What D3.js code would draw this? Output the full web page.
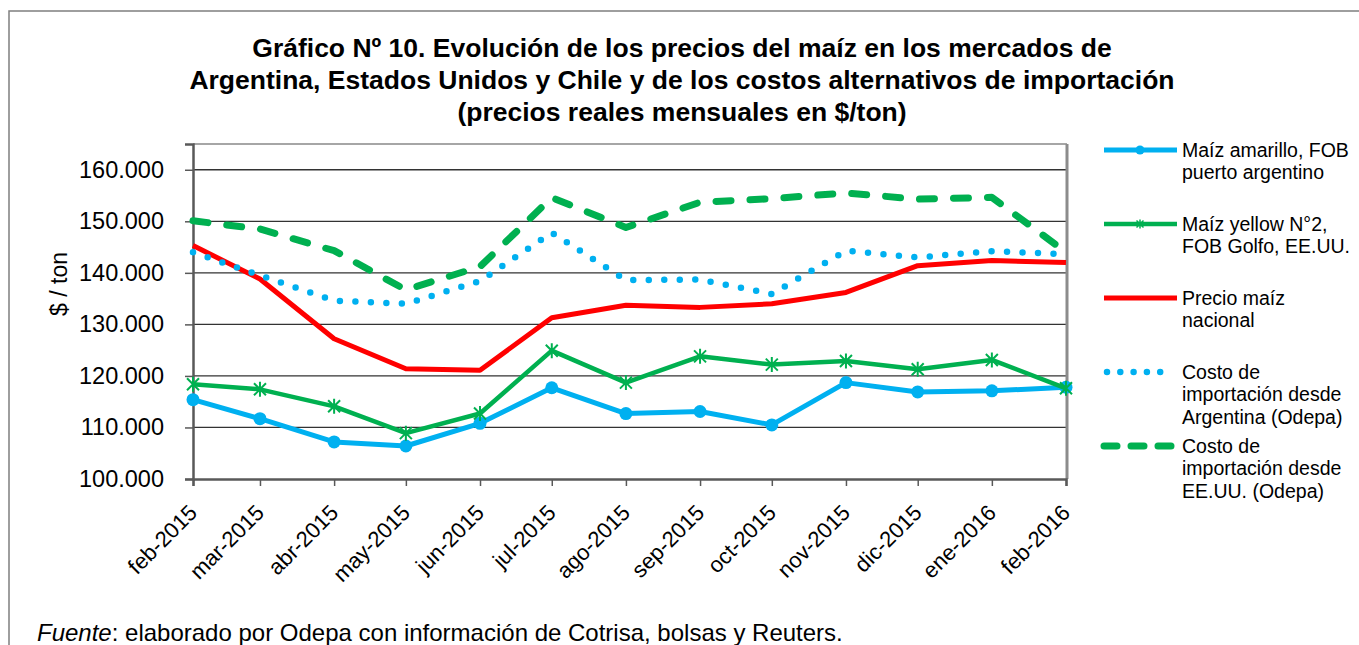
<!DOCTYPE html>
<html>
<head>
<meta charset="utf-8">
<script src="https://d3js.org/d3.v7.min.js"></script>
<style>
body { margin: 0; background: #fff; }
text { font-family: "Liberation Sans", Arial, sans-serif; fill: #000; }
</style>
</head>
<body>
<div id="visu"></div>
<script>

// Dimensions
var largeur = 1359,
    hauteur = 645;

// Données ($/ton)
var fechas = ["2015-02-01", "2015-03-01", "2015-04-01", "2015-05-01", "2015-06-01", "2015-07-01",
              "2015-08-01", "2015-09-01", "2015-10-01", "2015-11-01", "2015-12-01", "2016-01-01", "2016-02-01"];
var etiquetas = ["feb-2015", "mar-2015", "abr-2015", "may-2015", "jun-2015", "jul-2015",
                 "ago-2015", "sep-2015", "oct-2015", "nov-2015", "dic-2015", "ene-2016", "feb-2016"];

var amarilloFOB = [115400, 111700, 107200, 106400, 110800, 117700, 112700, 113100, 110500, 118700, 116900, 117100, 117800];
var yellowGolfo = [118400, 117400, 114100, 108900, 112700, 124900, 118700, 123800, 122200, 122900, 121300, 123100, 117600];
var precioNacional = [145300, 138800, 127200, 121400, 121100, 131300, 133700, 133300, 134000, 136200, 141400, 142400, 142000];
var costoArgentina = [144000, 139500, 134600, 134000, 138400, 147800, 138600, 138700, 135900, 144300, 143000, 144200, 143600];
var costoEEUU = [150100, 148500, 144300, 136700, 141200, 154600, 148800, 153700, 154400, 155500, 154300, 154650, 144000];

var ticksY = [100000, 110000, 120000, 130000, 140000, 150000, 160000];

var titulo = ["Gráfico Nº 10. Evolución de los precios del maíz en los mercados de",
              "Argentina, Estados Unidos y Chile y de los costos alternativos de importación",
              "(precios reales mensuales en $/ton)"];

var series = [
  {nom: ["Maíz amarillo, FOB", "puerto argentino"], valeurs: amarilloFOB, couleur: "#00B0F0", type: "cercle"},
  {nom: ["Maíz yellow N°2,", "FOB Golfo, EE.UU."], valeurs: yellowGolfo, couleur: "#00B050", type: "etoile"},
  {nom: ["Precio maíz", "nacional"], valeurs: precioNacional, couleur: "#FF0000", type: "plein"},
  {nom: ["Costo de", "importación desde", "Argentina (Odepa)"], valeurs: costoArgentina, couleur: "#00B0F0", type: "points"},
  {nom: ["Costo de", "importación desde", "EE.UU. (Odepa)"], valeurs: costoEEUU, couleur: "#00B050", type: "tirets"}
];

var parseDate = d3.timeParse("%Y-%m-%d");
var dates = fechas.map(parseDate);

var locale = d3.formatLocale({decimal: ",", thousands: ".", grouping: [3], currency: ["$", ""]});
var fmt = locale.format(",.0f");

var svg = d3.select("#visu")
  .append("svg")
    .attr("width", largeur)
    .attr("height", hauteur);

// cadre extérieur
svg.append("rect")
  .attr("x", 9).attr("y", 11)
  .attr("width", 1400).attr("height", 700)
  .attr("fill", "none")
  .attr("stroke", "#7f7f7f")
  .attr("stroke-width", 1.5);

// titre
svg.append("g").selectAll("text")
  .data(titulo)
  .enter().append("text")
    .attr("x", 682)
    .attr("y", (d, i) => 57 + i * 32)
    .attr("text-anchor", "middle")
    .style("font-size", "26.5px")
    .style("font-weight", "bold")
    .text(d => d);

// échelles
var x = d3.scaleTime()
  .domain([dates[0], dates[dates.length - 1]])
  .range([193, 1066]);

var y = d3.scaleLinear()
  .domain([100000, 165000])
  .range([479, 144]);

// grille
svg.append("g").selectAll("line")
  .data(ticksY.slice(1))
  .enter().append("line")
    .attr("x1", 193).attr("x2", 1066)
    .attr("y1", d => y(d)).attr("y2", d => y(d))
    .attr("stroke", "#333")
    .attr("stroke-width", 1.3);

// bord de la zone de tracé
svg.append("line")
  .attr("x1", 193).attr("x2", 1067).attr("y1", 144).attr("y2", 144)
  .attr("stroke", "#a6a6a6").attr("stroke-width", 2);
svg.append("line")
  .attr("x1", 1067).attr("x2", 1067).attr("y1", 144).attr("y2", 479)
  .attr("stroke", "#8c8c8c").attr("stroke-width", 3);

// axe Y
var axeY = svg.append("g")
  .attr("transform", "translate(193,0)")
  .call(d3.axisLeft(y).tickValues(ticksY).tickSize(8).tickPadding(21).tickFormat(fmt));
axeY.select(".domain").attr("stroke", "#595959").attr("stroke-width", 2.5);
axeY.selectAll(".tick line").attr("stroke", "#595959").attr("stroke-width", 1.5);
axeY.selectAll("text")
  .style("font-size", "23.5px")
  .style("font-family", "'Liberation Sans', Arial, sans-serif")
  .attr("fill", "#000");

// axe X
var axeX = svg.append("g")
  .attr("transform", "translate(0,479)")
  .call(d3.axisBottom(x).tickValues(dates).tickSize(7).tickFormat((d, i) => etiquetas[i]));
axeX.select(".domain").attr("stroke", "#595959").attr("stroke-width", 2.5);
axeX.selectAll(".tick line").attr("stroke", "#595959").attr("stroke-width", 1.5);
axeX.selectAll("text")
  .attr("x", 0).attr("y", 0).attr("dy", 0)
  .attr("text-anchor", "end")
  .attr("transform", "translate(5,35) rotate(-45)")
  .style("font-size", "22px")
  .style("font-family", "'Liberation Sans', Arial, sans-serif")
  .attr("fill", "#000");

// titre axe Y
svg.append("text")
  .attr("transform", "translate(67,284) rotate(-90)")
  .attr("text-anchor", "middle")
  .style("font-size", "23px")
  .text("$ / ton");

// courbes
var ligne = d3.line()
  .x((d, i) => x(dates[i]))
  .y(d => y(d));

function styleTrait(sel, s, legende) {
  sel.attr("fill", "none")
     .attr("stroke", s.couleur)
     .attr("stroke-linejoin", "round");
  if (s.type == "points") {
    sel.attr("stroke-width", 6.5).attr("stroke-linecap", "round")
       .attr("stroke-dasharray", legende ? "0 13.3" : "0 15.5");
  } else if (s.type == "tirets") {
    sel.attr("stroke-width", 7).attr("stroke-linecap", "round")
       .attr("stroke-dasharray", legende ? "13 14" : "15 19");
  } else {
    sel.attr("stroke-width", s.type == "etoile" ? 4.5 : 5).attr("stroke-linecap", "butt");
  }
}

var etoile = "M-6,-6L6,6M-6,6L6,-6M0,-7.5L0,7.5";
var etoilePetite = "M-3.5,-3.5L3.5,3.5M-3.5,3.5L3.5,-3.5M0,-4.5L0,4.5";

series.forEach(function(s) {
  var g = svg.append("g");
  g.append("path")
    .attr("d", ligne(s.valeurs))
    .call(styleTrait, s, false);
  if (s.type == "cercle") {
    g.selectAll("circle")
      .data(s.valeurs)
      .enter().append("circle")
        .attr("cx", (d, i) => x(dates[i]))
        .attr("cy", d => y(d))
        .attr("r", 6.5)
        .attr("fill", s.couleur);
  }
  if (s.type == "etoile") {
    g.selectAll(".etoile")
      .data(s.valeurs)
      .enter().append("path")
        .attr("transform", (d, i) => "translate(" + x(dates[i]) + "," + y(d) + ")")
        .attr("d", etoile)
        .attr("stroke", s.couleur)
        .attr("stroke-width", 2)
        .attr("fill", "none");
  }
});

// légende
var leg = svg.append("g");
series.forEach(function(s, i) {
  var y0 = 150 + i * 74;
  var x1 = s.type == "points" ? 1107 : 1104;
  var x2 = s.type == "points" ? 1161 : 1177;
  leg.append("path")
    .attr("d", "M" + x1 + "," + y0 + "L" + x2 + "," + y0)
    .call(styleTrait, s, true);
  if (s.type == "cercle") {
    leg.append("circle").attr("cx", 1140).attr("cy", y0).attr("r", 4.5).attr("fill", s.couleur);
  }
  if (s.type == "etoile") {
    leg.append("path").attr("transform", "translate(1140," + y0 + ")")
      .attr("d", etoilePetite).attr("stroke", s.couleur).attr("stroke-width", 1.5).attr("fill", "none");
  }
  leg.selectAll(".t" + i)
    .data(s.nom)
    .enter().append("text")
      .attr("x", 1182)
      .attr("y", (d, k) => y0 + k * 22.6)
      .attr("dy", "0.35em")
      .style("font-size", "19.5px")
      .text(d => d);
});

// source
var fuente = svg.append("text")
  .attr("x", 37)
  .attr("y", 641)
  .style("font-size", "24px");
fuente.append("tspan").style("font-style", "italic").text("Fuente");
fuente.append("tspan").text(": elaborado por Odepa con información de Cotrisa, bolsas y Reuters.");

</script>
</body>
</html>
